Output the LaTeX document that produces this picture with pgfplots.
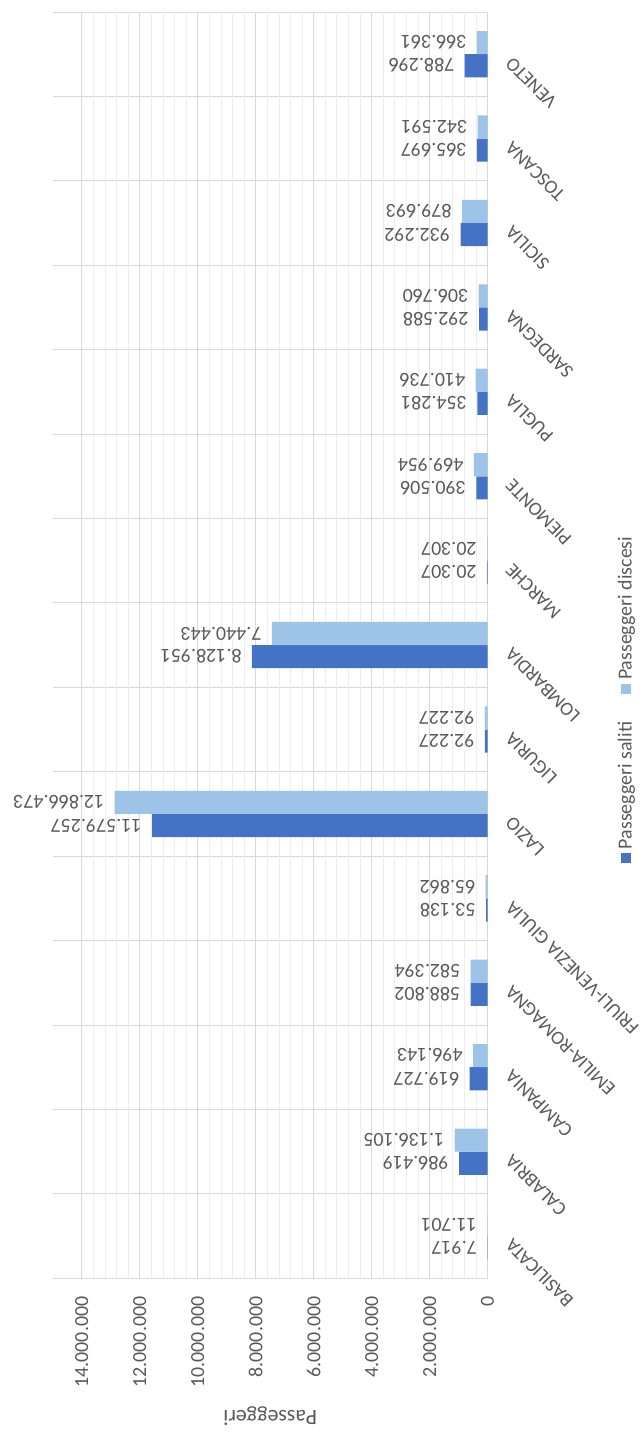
\documentclass[border=0pt]{standalone}
\usepackage{pgfplots}
\pgfplotsset{compat=1.18}
\usepackage{pgfplotstable}
\usepackage{graphicx}
\usepackage{fontspec}
\setmainfont{Carlito}

\definecolor{salitiblue}{HTML}{4472C4}
\definecolor{discesiblue}{HTML}{9DC3E6}
\definecolor{labelgray}{HTML}{595959}
\definecolor{majgrid}{HTML}{D9D9D9}
\definecolor{mingrid}{HTML}{EDEDED}

% x = indice regione, ls/ld = etichette dei dati
\pgfplotstableread{
x saliti ls discesi ld
0 7917 7.917 11701 11.701
1 986419 986.419 1136105 1.136.105
2 619727 619.727 496143 496.143
3 588802 588.802 582394 582.394
4 53138 53.138 65862 65.862
5 11579257 11.579.257 12866473 12.866.473
6 92227 92.227 92227 92.227
7 8128951 8.128.951 7440443 7.440.443
8 20307 20.307 20307 20.307
9 390506 390.506 469954 469.954
10 354281 354.281 410736 410.736
11 292588 292.588 306760 306.760
12 932292 932.292 879693 879.693
13 365697 365.697 342591 342.591
14 788296 788.296 366361 366.361
}\regioni

\begin{document}
\rotatebox{90}{%
\begin{tikzpicture}
\begin{axis}[
    scale only axis,
    width=635pt, height=218pt,
    ybar=0pt, bar width=11.6pt,
    clip=false,
    xmin=-0.5, xmax=14.5,
    ymin=0, ymax=15000000,
    axis line style={draw=none},
    major tick length=0pt, minor tick length=0pt,
    xtick={0,1,2,3,4,5,6,7,8,9,10,11,12,13,14},
    xticklabels={BASILICATA,CALABRIA,CAMPANIA,EMILIA-ROMAGNA,FRIULI-VENEZIA GIULIA,LAZIO,LIGURIA,LOMBARDIA,MARCHE,PIEMONTE,PUGLIA,SARDEGNA,SICILIA,TOSCANA,VENETO},
    minor xtick={-0.5,0.5,1.5,2.5,3.5,4.5,5.5,6.5,7.5,8.5,9.5,10.5,11.5,12.5,13.5,14.5},
    xminorgrids,
    minor x grid style={draw=majgrid},
    ytick={0,2000000,4000000,6000000,8000000,10000000,12000000,14000000},
    yticklabels={0,2.000.000,4.000.000,6.000.000,8.000.000,10.000.000,12.000.000,14.000.000},
    minor y tick num=4,
    ymajorgrids, yminorgrids,
    major y grid style={draw=majgrid},
    minor y grid style={draw=mingrid},
    scaled y ticks=false,
    xticklabel style={font=\fontsize{9.6}{11}\selectfont, text=labelgray, inner sep=0pt, xshift=-3pt, yshift=-10.5pt, rotate=45, anchor=east},
    yticklabel style={font=\fontsize{10}{12}\selectfont, text=labelgray, inner sep=0pt, xshift=-9pt},
    ylabel={Passeggeri},
    ylabel style={font=\fontsize{11}{13}\selectfont, text=labelgray, at={(axis description cs:-0.1087,0.5)}, anchor=center},
    nodes near coords,
    point meta=explicit symbolic,
    every node near coord/.append style={rotate=90, anchor=west, font=\fontsize{10}{12}\selectfont, text=labelgray, inner xsep=5pt, inner ysep=0pt},
    legend style={at={(axis description cs:0.4583,-0.3188)}, anchor=center, draw=none, fill=none,
        legend columns=-1, font=\fontsize{10}{12}\selectfont, text=labelgray,
        /tikz/every even column/.append style={column sep=12pt}},
    legend image code/.code={\fill[#1] (0pt,-2.5pt) rectangle (5pt,2.5pt);},
]
\addplot[fill=salitiblue, draw=none] table[x=x, y=saliti, meta=ls] {\regioni};
\addplot[fill=discesiblue, draw=none] table[x=x, y=discesi, meta=ld] {\regioni};
\legend{Passeggeri saliti, Passeggeri discesi}
\path (axis description cs:-0.1181,-0.3578) rectangle (axis description cs:1.00945,1.1216);
\end{axis}
\end{tikzpicture}%
}
\end{document}
